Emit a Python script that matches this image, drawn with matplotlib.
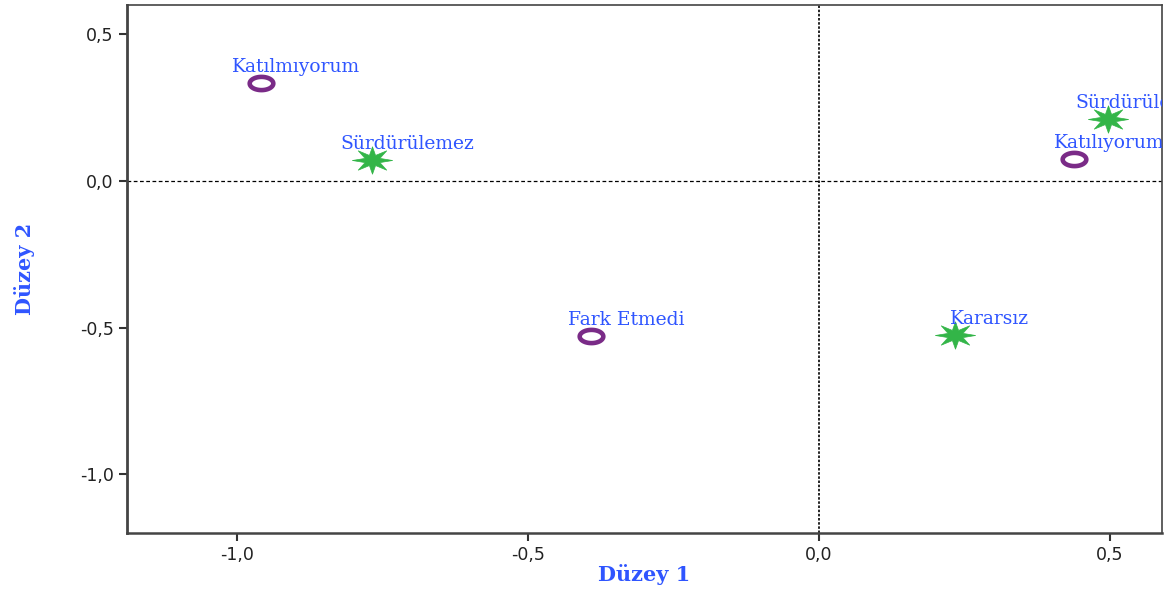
import numpy as np
import matplotlib.pyplot as plt
from matplotlib.path import Path
from matplotlib.ticker import FuncFormatter

# row points (circles) and column points (stars)
row_labels = ["Katılmıyorum", "Fark Etmedi", "Katılıyorum"]
row_x = [-0.959, -0.392, 0.439]
row_y = [0.333, -0.527, 0.075]

col_labels = ["Sürdürülemez", "Kararsız", "Sürdürülebilir"]
col_x = [-0.768, 0.234, 0.497]
col_y = [0.071, -0.524, 0.211]

xticks = [-1.0, -0.5, 0.0, 0.5]
yticks = [0.5, 0.0, -0.5, -1.0]

BLUE = "#2f55ff"
PURPLE = "#7a2b87"
GREEN = "#33b548"


def ellipse_marker(sx=1.0, sy=0.56):
    t = np.linspace(0, 2 * np.pi, 60)
    verts = np.column_stack([sx * np.cos(t), sy * np.sin(t)])
    return Path(verts, closed=True)


def star_marker(n=8, inner=0.4, sx=1.0, sy=0.68):
    ang = np.pi / 2 + np.arange(2 * n) * np.pi / n
    r = np.where(np.arange(2 * n) % 2 == 0, 1.0, inner)
    verts = np.column_stack([sx * r * np.cos(ang), sy * r * np.sin(ang)])
    verts = np.vstack([verts, verts[:1]])
    return Path(verts, closed=True)


fig = plt.figure(figsize=(11.67, 5.95), dpi=100)
ax = fig.add_axes([127 / 1167, 1 - 533 / 595, (1162 - 127) / 1167, (533 - 5) / 595])

ax.set_xlim(-1.19, 0.59)
ax.set_ylim(-1.2, 0.6)

ax.axhline(0, color="black", lw=0.9, ls=(0, (3, 2)), zorder=1)
ax.axvline(0, color="black", lw=1.2, ls=(0, (1.5, 1)), zorder=1)

ax.plot(row_x, row_y, ls="none", marker=ellipse_marker(), markersize=17,
        markerfacecolor="white", markeredgecolor=PURPLE, markeredgewidth=3.3, zorder=3)
ax.plot(col_x, col_y, ls="none", marker=star_marker(), markersize=29,
        markerfacecolor=GREEN, markeredgecolor=GREEN, markeredgewidth=0.5, zorder=3)

# labels sit above-right of each point; "Sürdürülebilir" is clipped by the frame as in the original
for lab, x, y in zip(row_labels + col_labels, row_x + col_x, row_y + col_y):
    ax.annotate(lab, (x, y), xytext=(35, 16), textcoords="offset pixels",
                ha="center", va="center", color=BLUE, fontsize=13.5,
                family="DejaVu Serif", clip_on=True, zorder=4)

ax.set_xticks(xticks)
ax.set_yticks(yticks)
fmt = FuncFormatter(lambda v, p: f"{v:.1f}".replace(".", ","))
ax.xaxis.set_major_formatter(fmt)
ax.yaxis.set_major_formatter(fmt)
ax.tick_params(direction="out", length=6, width=1.5, color="#333333",
               labelsize=12.5, labelcolor="#222222")

for s in ax.spines.values():
    s.set_color("#444444")
ax.spines["left"].set_linewidth(2)
ax.spines["bottom"].set_linewidth(1.8)
ax.spines["top"].set_linewidth(1.2)
ax.spines["right"].set_linewidth(1.2)

ax.set_xlabel("Düzey 1", color=BLUE, fontsize=15, fontweight="bold",
              family="DejaVu Serif", labelpad=0)
ax.set_ylabel("Düzey 2", color=BLUE, fontsize=15, fontweight="bold",
              family="DejaVu Serif", labelpad=32)

fig.savefig("out.png", dpi=100)
